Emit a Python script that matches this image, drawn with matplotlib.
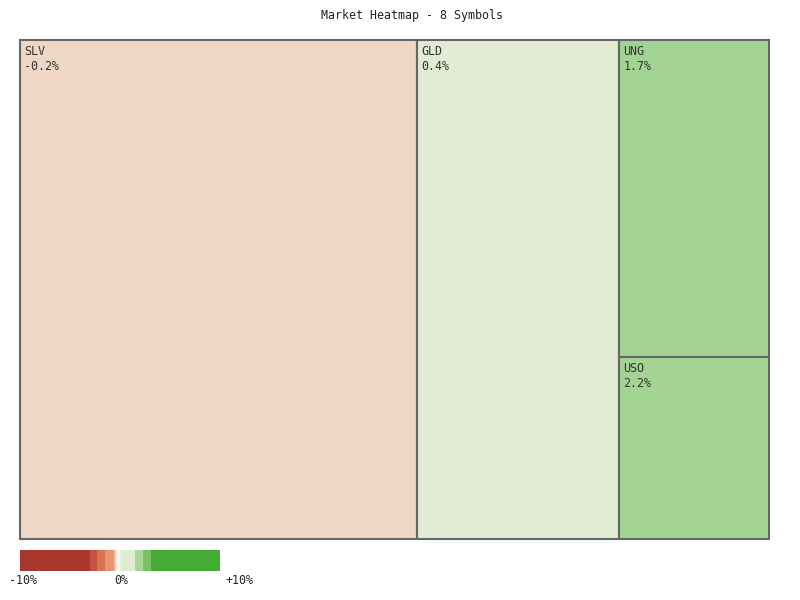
import numpy as np
import matplotlib
matplotlib.use("Agg")
import matplotlib.pyplot as plt
from matplotlib.patches import Rectangle
from matplotlib.colors import LinearSegmentedColormap

# treemap data
symbols = ["SLV", "GLD", "UNG", "USO"]
weights = [53.0, 27.0, 12.7, 7.3]
changes = [-0.2, 0.4, 1.7, 2.2]
tile_colors = ["#f0d6c4", "#e2ebd4", "#a3d494", "#a3d494"]
columns = [[0], [1], [2, 3]]  # which symbols share a column

# colour scale legend
scale_bounds = [-10, -3, -2.3, -1.5, -0.7, 0.2, 1.5, 2.3, 3.1, 10]
scale_colors = ["#a8372d", "#c85241", "#d77455", "#e69470", None,
                "#deedd2", "#a8d696", "#78c365", "#46aa37"]
scale_labels = ["-10%", "0%", "+10%"]

W, H = 800, 600
fig = plt.figure(figsize=(8, 6), dpi=100)
fig.patch.set_facecolor("white")
font = "DejaVu Sans Mono"

fig.text(412 / W, 1 - 16 / H, "Market Heatmap - 8 Symbols", ha="center", va="center",
         fontsize=8.4, family=font, color="#222222")

ax = fig.add_axes([20 / W, 1 - 539 / H, 749 / W, 499 / H])
ax.set_xlim(0, 1)
ax.set_ylim(1, 0)
ax.axis("off")

total = sum(weights)
x0 = 0
for col in columns:
    cw = sum(weights[i] for i in col) / total
    y0 = 0
    for i in col:
        h = weights[i] / sum(weights[j] for j in col)
        ax.add_patch(Rectangle((x0, y0), cw, h, facecolor=tile_colors[i],
                               edgecolor="#666666", linewidth=1.5, clip_on=False))
        ax.text(x0 + 4 / 749, y0 + 5 / 499, symbols[i], ha="left", va="top",
                fontsize=8.4, family=font, color="#333333")
        ax.text(x0 + 4 / 749, y0 + 20 / 499, f"{changes[i]:.1f}%", ha="left", va="top",
                fontsize=8.4, family=font, color="#333333")
        y0 += h
    x0 += cw

# legend bar
cax = fig.add_axes([20 / W, 1 - 571 / H, 200 / W, 21 / H])
cax.set_xlim(-10, 10)
cax.set_ylim(0, 1)
cax.axis("off")
grad = LinearSegmentedColormap.from_list("g", ["#e69470", "#ffffff", "#deedd2"])
for k in range(len(scale_colors)):
    a, b = scale_bounds[k], scale_bounds[k + 1]
    if scale_colors[k] is None:
        cax.imshow(np.linspace(0, 1, 64)[None, :], cmap=grad, extent=(a, b, 0, 1),
                   aspect="auto", interpolation="bilinear")
    else:
        cax.add_patch(Rectangle((a, 0), b - a, 1, facecolor=scale_colors[k], linewidth=0))
cax.set_xlim(-10, 10)
cax.set_ylim(0, 1)

for px, lab in zip([23, 121, 239], scale_labels):
    fig.text(px / W, 1 - 580 / H, lab, ha="center", va="center",
             fontsize=8.4, family=font, color="#222222")

fig.savefig("out.png", dpi=100)
